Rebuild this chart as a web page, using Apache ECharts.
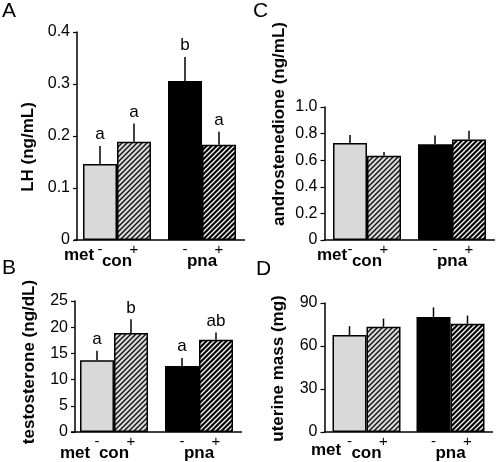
<!DOCTYPE html>
<html>
<head>
<meta charset="utf-8">
<script src="https://cdn.jsdelivr.net/npm/echarts@6/dist/echarts.min.js"></script>
<style>html,body{margin:0;padding:0;background:#fff;}#c{width:500px;height:462px;}</style>
</head>
<body>
<div id="c"></div>
<script>
// ---- data ----
const groups = ['con', 'pna'];
const metSigns = ['-', '+'];

const lhMinus = [0.146, 0.306];
const lhMinusErr = [0.035, 0.046];
const lhPlus = [0.189, 0.183];
const lhPlusErr = [0.035, 0.025];
const lhMinusLetters = ['a', 'b'];
const lhPlusLetters = ['a', 'a'];
const lhTicks = [0, 0.4, 0.1];

const testoMinus = [13.7, 12.6];
const testoMinusErr = [1.8, 1.5];
const testoPlus = [18.9, 17.6];
const testoPlusErr = [2.6, 1.4];
const testoMinusLetters = ['a', 'a'];
const testoPlusLetters = ['b', 'ab'];
const testoTicks = [0, 25, 5];

const androMinus = [0.73, 0.72];
const androMinusErr = [0.06, 0.065];
const androPlus = [0.633, 0.755];
const androPlusErr = [0.028, 0.066];
const androTicks = [0, 1.0, 0.2];

const uterMinus = [67.6, 80.3];
const uterMinusErr = [6.2, 6.6];
const uterPlus = [73.4, 75.5];
const uterPlusErr = [5.7, 5.7];
const uterTicks = [0, 90, 30];

const panelLetters = ['A', 'B', 'C', 'D'];
const yTitles = ['LH (ng/mL)', 'testosterone (ng/dL)', 'androstenedione (ng/mL)', 'uterine mass (mg)'];

// ---- styling helpers ----
const FONT = 'Liberation Sans, Arial, sans-serif';
function hatch(bg, fg, size, lw) {
  const c = document.createElement('canvas');
  c.width = size; c.height = size;
  const ctx = c.getContext('2d');
  ctx.fillStyle = bg; ctx.fillRect(0, 0, size, size);
  ctx.strokeStyle = fg; ctx.lineWidth = lw;
  ctx.beginPath();
  ctx.moveTo(-1, size + 1); ctx.lineTo(size + 1, -1);
  ctx.moveTo(-2, 2); ctx.lineTo(2, -2);
  ctx.moveTo(size - 2, size + 2); ctx.lineTo(size + 2, size - 2);
  ctx.stroke();
  return c;
}
const lightGray = '#d9d9d9';
const conPlusFill = { image: hatch(lightGray, '#111', 5, 1.4), repeat: 'repeat' };
const pnaPlusFill = { image: hatch('#000', '#fff', 5, 1.3), repeat: 'repeat' };

const panels = [
  { minus: lhMinus, minusErr: lhMinusErr, plus: lhPlus, plusErr: lhPlusErr, ml: lhMinusLetters, pl: lhPlusLetters, ticks: lhTicks,
    grid: { left: 74.5, top: 32, width: 170, height: 208 }, yOffset: -2.5, fmt: v => v === 0 ? '0' : v.toFixed(1) },
  { minus: testoMinus, minusErr: testoMinusErr, plus: testoPlus, plusErr: testoPlusErr, ml: testoMinusLetters, pl: testoPlusLetters, ticks: testoTicks,
    grid: { left: 71.5, top: 301, width: 170, height: 133 }, yOffset: -3.5, fmt: v => String(v) },
  { minus: androMinus, minusErr: androMinusErr, plus: androPlus, plusErr: androPlusErr, ml: null, pl: null, ticks: androTicks,
    grid: { left: 324.5, top: 107, width: 170, height: 133 }, yOffset: 0, fmt: v => v === 0 ? '0' : v.toFixed(1) },
  { minus: uterMinus, minusErr: uterMinusErr, plus: uterPlus, plusErr: uterPlusErr, ml: null, pl: null, ticks: uterTicks,
    grid: { left: 324.5, top: 303, width: 168, height: 131 }, yOffset: 0, fmt: v => String(v) }
];

const grid = [], xAxis = [], yAxis = [], series = [];
panels.forEach((p, i) => {
  grid.push(p.grid);
  xAxis.push({
    gridIndex: i, type: 'category', data: groups,
    axisLine: { lineStyle: { color: '#000', width: 1.5 } },
    axisTick: { show: false },
    axisLabel: { color: '#000', fontFamily: FONT, fontSize: 17, fontWeight: 'bold', margin: 13 }
  });
  yAxis.push({
    gridIndex: i, type: 'value', min: p.ticks[0], max: p.ticks[1], interval: p.ticks[2], offset: p.yOffset,
    splitLine: { show: false },
    axisLine: { show: true, lineStyle: { color: '#000', width: 1.5 } },
    axisTick: { show: true, length: 4, lineStyle: { color: '#000', width: 1.2 } },
    axisLabel: { color: '#000', fontFamily: FONT, fontSize: 16, margin: 7, formatter: p.fmt }
  });
  const signLabel = s => ({ show: true, position: 'bottom', distance: 2, formatter: s, color: '#000', fontFamily: FONT, fontSize: 15 });
  series.push({
    type: 'bar', name: metSigns[0], xAxisIndex: i, yAxisIndex: i, barWidth: 34, barGap: '0%',
    data: p.minus.map((v, k) => ({ value: v, itemStyle: { color: k === 0 ? lightGray : '#000' } })),
    itemStyle: { borderColor: '#000', borderWidth: 1.5 },
    label: signLabel(metSigns[0]), silent: true
  });
  series.push({
    type: 'bar', name: metSigns[1], xAxisIndex: i, yAxisIndex: i, barWidth: 34, barGap: '0%',
    data: p.plus.map((v, k) => ({ value: v, itemStyle: { color: k === 0 ? conPlusFill : pnaPlusFill } })),
    itemStyle: { borderColor: '#000', borderWidth: 1.5 },
    label: signLabel(metSigns[1]), silent: true
  });
  // error bars + significance letters
  const errData = [];
  p.minus.forEach((v, k) => errData.push([k, v, p.minusErr[k], -1, p.ml ? p.ml[k] : '']));
  p.plus.forEach((v, k) => errData.push([k, v, p.plusErr[k], 1, p.pl ? p.pl[k] : '']));
  series.push({
    type: 'custom', xAxisIndex: i, yAxisIndex: i, silent: true, z: 5,
    data: errData,
    renderItem: function (params, api) {
      const k = api.value(0), v = api.value(1), e = api.value(2), side = api.value(3);
      const letter = errData[params.dataIndex][4];
      const half = 17;
      const p0 = api.coord([k, v]);
      const p1 = api.coord([k, v + e]);
      const x = p0[0] + side * half;
      const children = [{
        type: 'line', shape: { x1: x, y1: p0[1], x2: x, y2: p1[1] },
        style: { stroke: '#000', lineWidth: 1.5 }
      }];
      if (letter) {
        children.push({
          type: 'text', x: x, y: p1[1] - 3,
          style: { text: letter, font: '17px ' + FONT, fill: '#000', textAlign: 'center', textVerticalAlign: 'bottom' }
        });
      }
      return { type: 'group', children: children };
    }
  });
});

const titlePos = [[28.5, 147], [29, 362], [279, 124], [278.5, 368.5]];
const letterPos = [[2, 1], [2, 258], [253, 1], [256, 259]];
const metPos = [[79, 255], [75, 453], [332, 255], [326, 450]];
const graphic = [];
panelLetters.forEach((L, i) => {
  graphic.push({ type: 'text', x: letterPos[i][0], y: letterPos[i][1],
    style: { text: L, font: '21px ' + FONT, fill: '#000', textAlign: 'left', textVerticalAlign: 'top' } });
  graphic.push({ type: 'text', x: titlePos[i][0], y: titlePos[i][1], rotation: Math.PI / 2,
    style: { text: yTitles[i], font: 'bold 17px ' + FONT, fill: '#000', textAlign: 'center', textVerticalAlign: 'middle' } });
  graphic.push({ type: 'text', x: metPos[i][0], y: metPos[i][1],
    style: { text: 'met', font: 'bold 17px ' + FONT, fill: '#000', textAlign: 'center', textVerticalAlign: 'middle' } });
});

const chart = echarts.init(document.getElementById('c'), null, { renderer: 'canvas' });
chart.setOption({ animation: false, backgroundColor: '#fff', grid, xAxis, yAxis, series, graphic });
</script>
</body>
</html>
